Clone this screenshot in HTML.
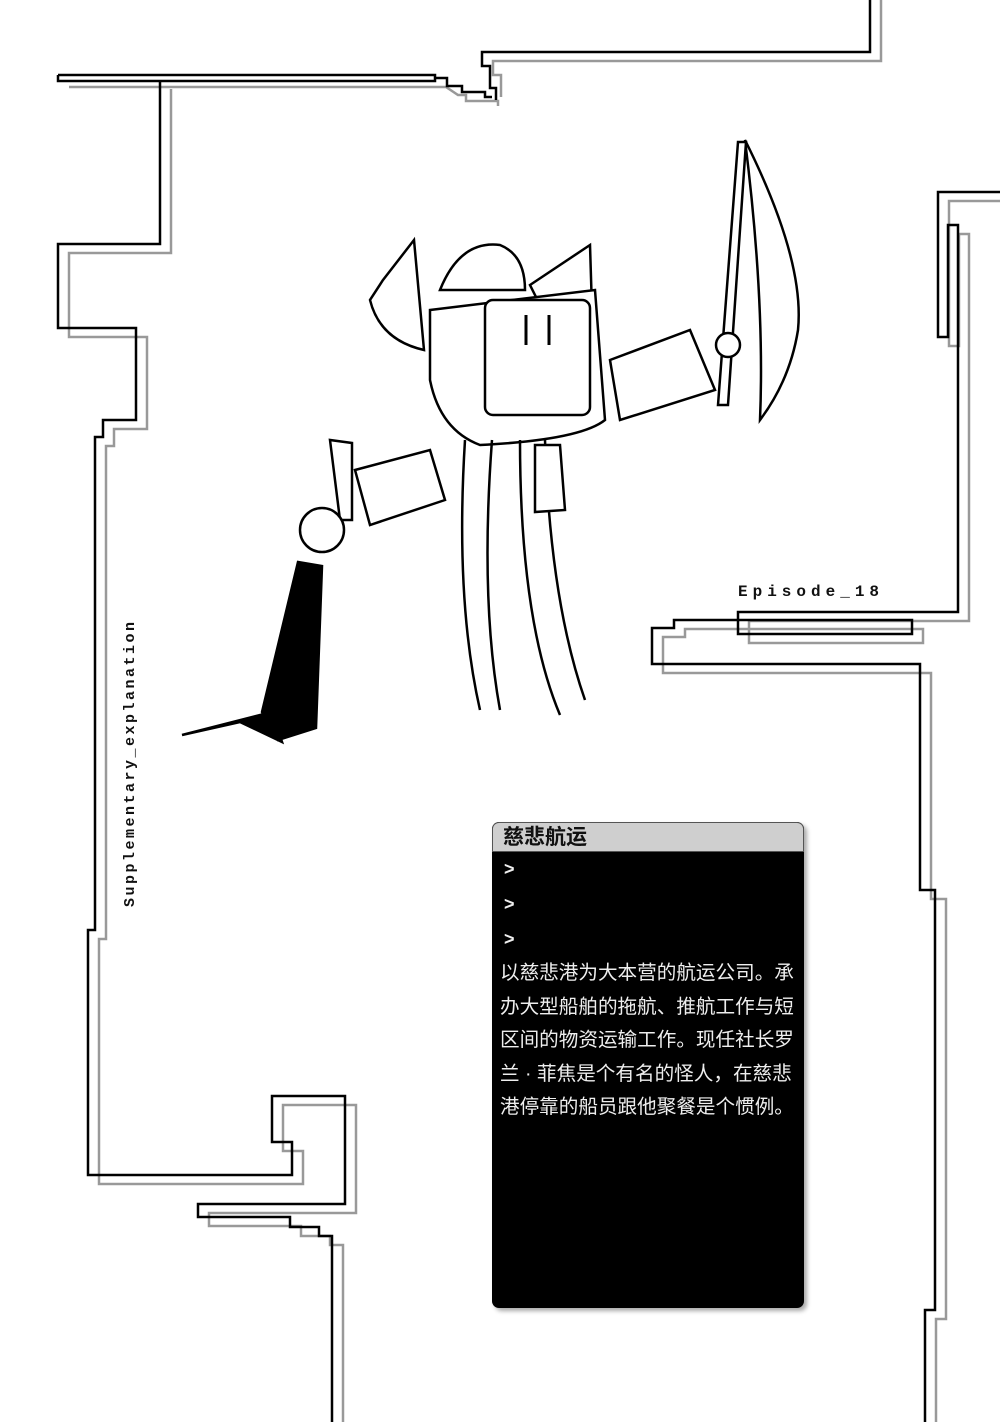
<!DOCTYPE html>
<html><head><meta charset="utf-8"><style>
html,body{margin:0;padding:0;background:#fff;}
#p{position:relative;width:1000px;height:1422px;overflow:hidden;background:#fff;}
svg{position:absolute;left:0;top:0;}
.ep{position:absolute;left:738px;top:583px;font:bold 16px "Liberation Mono",monospace;letter-spacing:5px;color:#111;}
.sup{position:absolute;left:122px;top:907px;transform-origin:0 0;transform:rotate(-90deg);font:bold 15px "Liberation Mono",monospace;letter-spacing:2.5px;color:#111;white-space:nowrap;}
.box{position:absolute;left:492px;top:822px;width:312px;height:486px;background:#000;border-radius:7px;box-shadow:3px 3px 4px #aaa;overflow:hidden;}
.hd{height:30px;background:#cfcfcf;border:1px solid #555;border-radius:7px 7px 0 0;font:bold 21px "Liberation Sans","Noto Sans CJK SC",sans-serif;color:#111;padding-left:10px;line-height:30px;box-sizing:border-box;}
.tx{color:#eee;font:19.6px "Liberation Sans","Noto Sans CJK SC",sans-serif;padding:0 0 0 8px;line-height:33.5px;}
.ar{font:bold 18px "Liberation Sans",sans-serif;line-height:35px;padding-left:4px;}
</style></head><body><div id="p">
<svg width="1000" height="1422" viewBox="0 0 1000 1422" fill="none" stroke-linejoin="miter">
<g stroke="#999" stroke-width="2.5" transform="translate(11,9)">
<polyline points="870,-10 870,52 482,52 482,66 490,66 490,88"/>
<polyline points="58,78 435,78 447,86 455,86 455,92 487,92 487,97"/>
<polyline points="160,80 160,244 58,244 58,328 136,328 136,420 103,420 103,437 95,437 95,930 88,930 88,1175 292,1175 292,1142 272,1142 272,1096 345,1096 345,1204 198,1204 198,1217 290,1217 290,1227 319,1227 319,1236 332,1236 332,1422"/>
<polyline points="1000,192 938,192 938,337 948,337 948,225 958,225 958,612 738,612 738,634 912,634 912,620 674,620 674,628 652,628 652,664 920,664 920,890 935,890 935,1310 925,1310 925,1422"/>
</g>
<g stroke="#000" stroke-width="2.5">
<polyline points="870,0 870,52 482,52 482,66 490,66 490,88 496,88 496,100"/>
<polyline points="58,75 58,81 435,81 435,75 58,75"/>
<polyline points="435,78 447,78 447,86 462,86 462,92 485,92 485,97 492,97"/>
<polyline points="160,80 160,244 58,244 58,328 136,328 136,420 103,420 103,437 95,437 95,930 88,930 88,1175 292,1175 292,1142 272,1142 272,1096 345,1096 345,1204 198,1204 198,1217 290,1217 290,1227 319,1227 319,1236 332,1236 332,1422"/>
<polyline points="1000,192 938,192 938,337 948,337 948,225 958,225 958,612 738,612 738,634 912,634 912,620 738,620"/>
<polyline points="738,620 674,620 674,628 652,628 652,664 920,664 920,890 935,890 935,1310 925,1310 925,1422"/>
</g>
<!-- character -->
<g stroke="#000" stroke-width="2.5" fill="#fff">
<path d="M383,280 L414,240 L424,350 Q380,340 370,300 Z"/>
<path d="M440,290 Q460,240 500,245 Q525,255 525,290 Z"/>
<path d="M530,285 L590,245 L592,310 L540,305 Z"/>
<path d="M430,310 L595,290 L605,420 Q580,440 480,445 Q440,430 430,380 Z"/>
<rect x="485" y="300" width="105" height="115" rx="8"/>
<path d="M610,360 L690,330 L715,390 L620,420 Z"/>
<path d="M745,140 Q805,260 798,330 Q790,380 760,420 Q765,300 745,140 Z"/>
<path d="M738,142 L718,405 L728,405 L746,142 Z"/>
<circle cx="728" cy="345" r="12"/>
<path d="M355,470 L430,450 L445,500 L370,525 Z"/>
<path d="M330,440 L340,520 L352,520 L352,443 Z"/>
<circle cx="322" cy="530" r="22"/>
<path d="M298,562 L322,566 L316,728 L278,740 L262,712 Z" fill="#000"/>
<path d="M272,712 L182,735 L240,722 L282,742 Z" fill="#000"/>
<path d="M465,440 Q455,600 480,710 M492,440 Q480,600 500,710 M520,440 Q520,620 560,715 M545,440 Q550,600 585,700"/>
<path d="M535,445 L560,445 L565,510 L535,512 Z"/>
</g>
<g stroke="#000" stroke-width="3"><line x1="526" y1="315" x2="526" y2="345"/><line x1="549" y1="315" x2="549" y2="345"/></g>
</svg>
<div class="ep">Episode_18</div>
<div class="sup">Supplementary_explanation</div>
<div class="box"><div class="hd">慈悲航运</div>
<div class="tx"><div class="ar">&gt;</div><div class="ar">&gt;</div><div class="ar">&gt;</div>
以慈悲港为大本营的航运公司。承<br>办大型船舶的拖航、推航工作与短<br>区间的物资运输工作。现任社长罗<br>兰 · 菲焦是个有名的怪人，在慈悲<br>港停靠的船员跟他聚餐是个惯例。</div></div>
</div></body></html>
